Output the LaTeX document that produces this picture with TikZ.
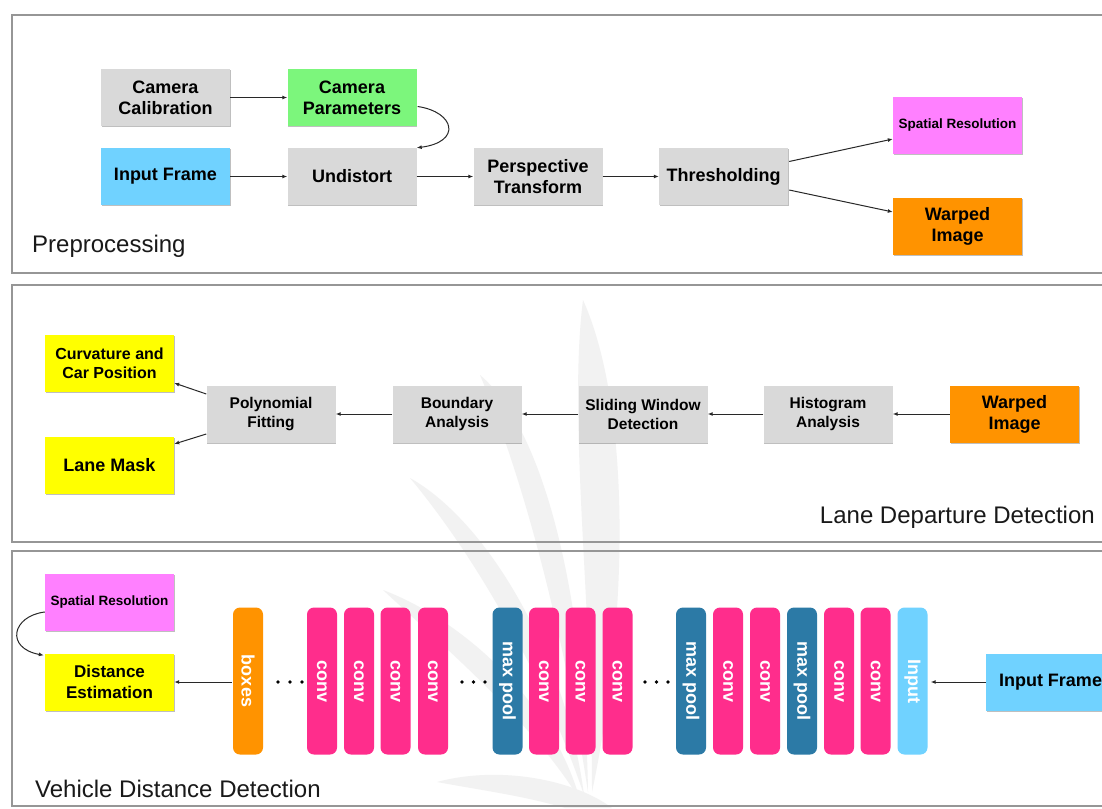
\documentclass[tikz,border=0pt]{standalone}
\usepackage{fontspec}
\setmainfont{Liberation Sans}
\usetikzlibrary{arrows.meta,shadows,calc}
\definecolor{boxgray}{RGB}{217,217,217}
\definecolor{pgreen}{RGB}{124,246,124}
\definecolor{pblue}{RGB}{112,210,255}
\definecolor{pmag}{RGB}{255,128,255}
\definecolor{porange}{RGB}{255,147,0}
\definecolor{pyellow}{RGB}{255,255,0}
\definecolor{convpink}{RGB}{255,45,140}
\definecolor{poolblue}{RGB}{44,122,166}
\definecolor{framegray}{RGB}{150,150,150}
\definecolor{arrowgray}{RGB}{40,40,40}
\definecolor{titlegray}{RGB}{25,25,25}
\begin{document}
\begin{tikzpicture}[x=1pt,y=-1pt,
  box/.style={minimum width=129pt, minimum height=57pt, inner sep=0pt, align=center,
    font=\bfseries\fontsize{18}{21}\selectfont,
    drop shadow={shadow xshift=0.8pt, shadow yshift=-1pt, opacity=0.25, fill=black}},
  lanebox/.style={box, font=\bfseries\fontsize{15.5}{19}\selectfont},
  smallbox/.style={box, font=\bfseries\fontsize{13.5}{16}\selectfont},
  layer/.style={rotate=-90, minimum width=147pt, minimum height=30pt, inner sep=0pt,
    rounded corners=7pt, text=white, font=\bfseries\fontsize{18}{21}\selectfont},
  arr/.style={-{Latex[length=5pt,width=4pt]}, line width=1pt, draw=arrowgray},
  frame/.style={draw=framegray, line width=2.4pt},
  title/.style={anchor=base west, inner sep=0pt, text=titlegray, font=\fontsize{24}{28}\selectfont},
  leaf/.style={fill=black!5, draw=none},
  dotc/.style={circle, fill=black, inner sep=0pt, minimum size=3.6pt}]
\useasboundingbox (0,0) rectangle (1102,808);
\fill[white] (0,0) rectangle (1102,808);

% faint watermark (plant blades)
\path[leaf] (583,300) .. controls (628,400) and (632,600) .. (592,792) .. controls (592,600) and (568,420) .. (583,300);
\path[leaf] (480,375) .. controls (545,430) and (585,600) .. (588,792) .. controls (562,620) and (520,470) .. (480,375);
\path[leaf] (410,478) .. controls (485,520) and (565,650) .. (584,795) .. controls (540,665) and (470,550) .. (410,478);
\path[leaf] (383,590) .. controls (462,620) and (552,700) .. (580,800) .. controls (532,722) and (450,652) .. (383,590);
\path[leaf] (437,782) .. controls (500,765) and (575,780) .. (612,808) -- (565,808) .. controls (525,796) and (480,790) .. (437,782);

% frames
\draw[frame] (12,15) rectangle (1120,273);
\draw[frame] (12,285) rectangle (1120,542);
\draw[frame] (12,551) rectangle (1120,806);

% ---------- Preprocessing ----------
\node[box, fill=boxgray] (camcal) at (165.5,97.5) {Camera\\Calibration};
\node[box, fill=pgreen] (campar) at (352,97.5) {Camera\\Parameters};
\node[box, fill=pblue] (inframe) at (165.5,176.5) {Input Frame};
\node[box, fill=boxgray] (undist) at (352,176.5) {Undistort};
\node[box, fill=boxgray] (persp) at (538,176.5) {Perspective\\Transform};
\node[box, fill=boxgray] (thresh) at (723.5,176.5) {Thresholding};
\node[smallbox, fill=pmag] (spat1) at (957.5,125) {Spatial Resolution};
\node[box, fill=porange] (warp1) at (957.5,226.5) {Warped\\Image};
\node[title] (t1) at (32,252) {Preprocessing};

\draw[arr] (camcal) -- (campar);
\draw[arr] ($(campar.east)+(1,9)$) .. controls (455,112) and (462,142) .. (undist.north east);
\draw[arr] (inframe) -- (undist);
\draw[arr] (undist) -- (persp);
\draw[arr] (persp) -- (thresh);
\draw[arr] ($(thresh.east)+(1,-15)$) -- ($(spat1.west)+(0,14)$);
\draw[arr] ($(thresh.east)+(1,13.5)$) -- ($(warp1.west)+(0,-14.5)$);

% ---------- Lane Departure Detection ----------
\node[lanebox, fill=pyellow, font=\bfseries\fontsize{16}{19}\selectfont] (curv) at (109.5,363) {Curvature and\\Car Position};
\node[box, fill=pyellow] (lmask) at (109.5,465) {Lane Mask};
\node[lanebox, fill=boxgray] (poly) at (271,414) {Polynomial\\Fitting};
\node[lanebox, fill=boxgray] (bound) at (457,414) {Boundary\\Analysis};
\node[lanebox, fill=boxgray] (slide) at (643,414) {Sliding Window\\Detection};
\node[lanebox, fill=boxgray] (hist) at (828,414) {Histogram\\Analysis};
\node[box, fill=porange] (warp2) at (1014.5,414) {Warped\\Image};
\node[title, anchor=base east] (t2) at (1095,523) {Lane Departure Detection};

\draw[arr] (warp2) -- (hist);
\draw[arr] (hist) -- (slide);
\draw[arr] (slide) -- (bound);
\draw[arr] (bound) -- (poly);
\draw[arr] ($(poly.west)+(0,-20)$) -- ($(curv.east)+(0,20)$);
\draw[arr] ($(poly.west)+(0,20)$) -- ($(lmask.east)+(0,-21)$);

% ---------- Vehicle Distance Detection ----------
\node[smallbox, fill=pmag] (spat2) at (109.5,602) {Spatial Resolution};
\node[box, fill=pyellow, font=\bfseries\fontsize{17}{21}\selectfont] (dist) at (109.5,682) {Distance\\Estimation};
\node[box, fill=pblue] (inframe2) at (1050.5,682) {Input Frame};

\node[layer, fill=porange] (lboxes) at (248,681) {boxes};
\node[dotc] (d1a) at (278,682) {};
\node[dotc] (d1b) at (290,682) {};
\node[dotc] (d1c) at (302,682) {};
\node[layer, fill=convpink] (c1) at (322,681) {conv};
\node[layer, fill=convpink] (c2) at (359,681) {conv};
\node[layer, fill=convpink] (c3) at (395.5,681) {conv};
\node[layer, fill=convpink] (c4) at (433,681) {conv};
\node[dotc] (d2a) at (462,682) {};
\node[dotc] (d2b) at (473.5,682) {};
\node[dotc] (d2c) at (485,682) {};
\node[layer, fill=poolblue] (p1) at (507.5,681) {max pool};
\node[layer, fill=convpink] (c5) at (544,681) {conv};
\node[layer, fill=convpink] (c6) at (580.5,681) {conv};
\node[layer, fill=convpink] (c7) at (617.5,681) {conv};
\node[dotc] (d3a) at (645,682) {};
\node[dotc] (d3b) at (656.5,682) {};
\node[dotc] (d3c) at (668,682) {};
\node[layer, fill=poolblue] (p2) at (691,681) {max pool};
\node[layer, fill=convpink] (c8) at (728,681) {conv};
\node[layer, fill=convpink] (c9) at (765,681) {conv};
\node[layer, fill=poolblue] (p3) at (802,681) {max pool};
\node[layer, fill=convpink] (c10) at (839,681) {conv};
\node[layer, fill=convpink] (c11) at (875.5,681) {conv};
\node[layer, fill=pblue] (linput) at (912.5,681) {Input};
\node[title] (t3) at (35,797) {Vehicle Distance Detection};

\draw[arr] (inframe2.west) -- ($(linput.north)+(3,1)$);
\draw[arr] ($(lboxes.south)+(-1,1)$) -- (dist.east);
\draw[arr] ($(spat2.west)+(0,10)$) .. controls (12,616) and (5,648) .. ($(dist.north west)+(-1,2)$);
\end{tikzpicture}
\end{document}
